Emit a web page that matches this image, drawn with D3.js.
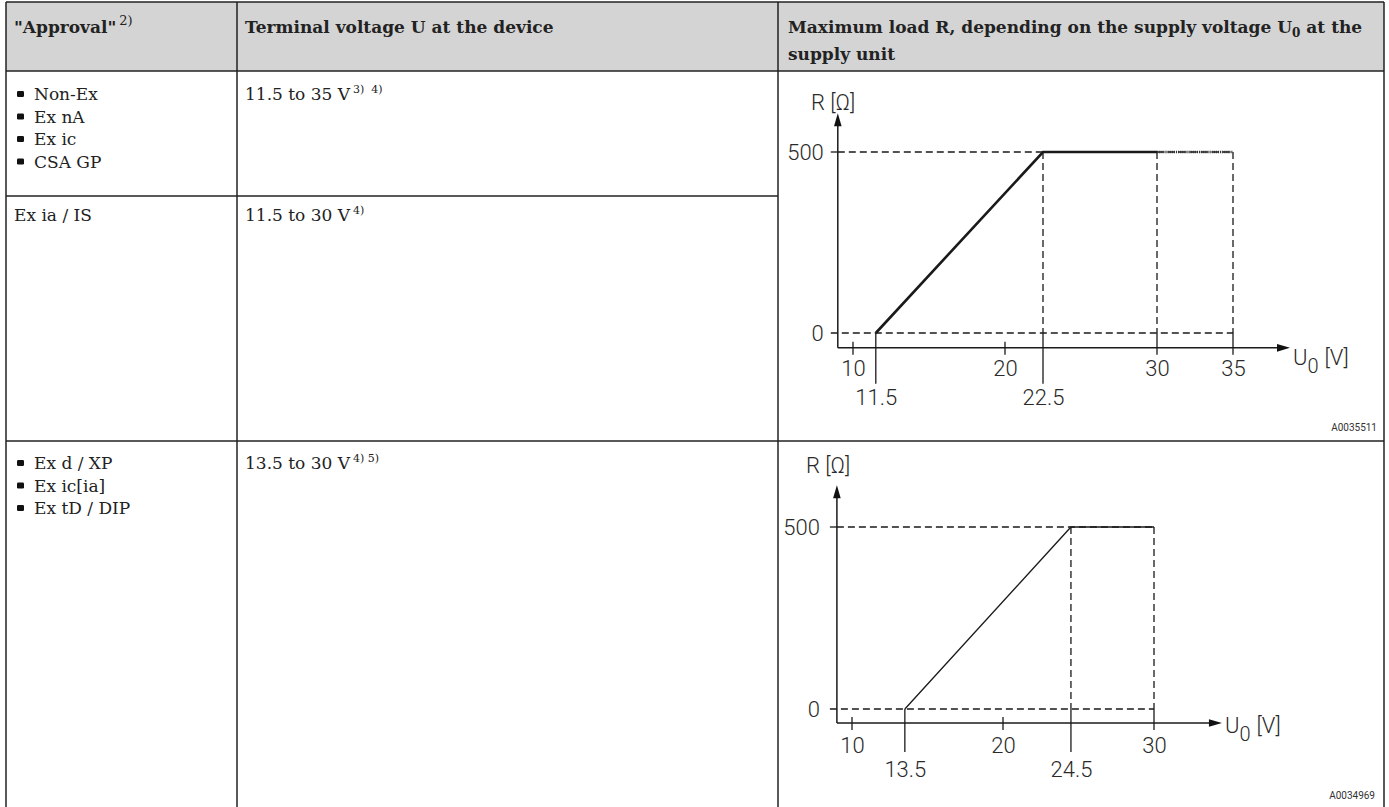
<!DOCTYPE html>
<html><head><meta charset="utf-8">
<script src="https://cdn.jsdelivr.net/npm/d3@7"></script>
<style>body{margin:0;background:#fff}</style>
</head><body>
<svg id="c" width="1389" height="807" xmlns="http://www.w3.org/2000/svg"></svg>
<script>
// ---------- data ----------
const headApproval = '"Approval"';
const headApprovalNote = "2)";
const headVoltage = "Terminal voltage U at the device";
const headLoad1 = ["Maximum load R, depending on the supply voltage U", "0", " at the"];
const headLoad2 = "supply unit";

const approvalsA = ["Non-Ex", "Ex nA", "Ex ic", "CSA GP"];
const approvalsB = ["Ex ia / IS"];
const approvalsC = ["Ex d / XP", "Ex ic[ia]", "Ex tD / DIP"];
const voltageA = "11.5 to 35 V", notesA = "3)  4)";
const voltageB = "11.5 to 30 V", notesB = "4)";
const voltageC = "13.5 to 30 V", notesC = "4) 5)";

const loadTicks = [0, 500];

// chart 1
const c1U = [11.5, 22.5, 30];
const c1R = [0, 500, 500];
const c1ExtU = [30, 35];
const c1ExtR = [500, 500];
const c1TopTicks = [10, 20, 30, 35];
const c1LowTicks = [11.5, 22.5];
const c1Guides = [22.5, 30, 35];
const c1Id = "A0035511";

// chart 2
const c2U = [13.5, 24.5, 30];
const c2R = [0, 500, 500];
const c2TopTicks = [10, 20, 30];
const c2LowTicks = [13.5, 24.5];
const c2Guides = [24.5, 30];
const c2Id = "A0034969";

// ---------- drawing ----------
const svg = d3.select("#c");
const SERIF = "'DejaVu Serif',serif";
const SANS = "Roboto,'Open Sans',sans-serif";
const INK = "#222";
const FS = 17;

// header background
svg.append("rect").attr("x", 6).attr("y", 2).attr("width", 1378).attr("height", 69).attr("fill", "#d4d4d4");

function supText(g, x, y, main, note, opts) {
  const t = g.append("text").attr("x", x).attr("y", y)
    .attr("font-family", SERIF).attr("font-size", opts.size).attr("font-weight", opts.weight || "normal")
    .attr("fill", INK).attr("xml:space", "preserve");
  t.append("tspan").text(main);
  t.append("tspan").attr("dx", 3).attr("dy", opts.supDy || -7).attr("font-size", opts.supSize || 11)
    .attr("font-weight", "normal").text(note);
  return t;
}

// header texts
supText(svg, 14, 33, headApproval, headApprovalNote, {size: FS, weight: "bold", supSize: 13, supDy: -8});
svg.append("text").attr("x", 245).attr("y", 33).attr("font-family", SERIF).attr("font-size", FS)
  .attr("font-weight", "bold").attr("fill", INK).text(headVoltage);
const h3 = svg.append("text").attr("x", 788).attr("y", 33).attr("font-family", SERIF).attr("font-size", FS)
  .attr("font-weight", "bold").attr("fill", INK).attr("xml:space", "preserve");
h3.append("tspan").text(headLoad1[0]);
h3.append("tspan").attr("dy", 4).attr("font-size", 12).text(headLoad1[1]);
h3.append("tspan").attr("dy", -4).text(headLoad1[2]);
svg.append("text").attr("x", 788).attr("y", 60).attr("font-family", SERIF).attr("font-size", FS)
  .attr("font-weight", "bold").attr("fill", INK).text(headLoad2);

// bulleted list
function bulletList(items, y0, step) {
  const g = svg.append("g");
  const rows = g.selectAll("g").data(items).join("g")
    .attr("transform", (d, i) => `translate(0,${y0 + i * step})`);
  rows.append("rect").attr("x", 17).attr("y", -9).attr("width", 7).attr("height", 6).attr("rx", 1.3).attr("fill", "#111");
  rows.append("text").attr("x", 34).attr("y", 0).attr("font-family", SERIF).attr("font-size", FS)
    .attr("fill", INK).text(d => d);
}
bulletList(approvalsA, 100, 22.5);
svg.selectAll(".plainB").data(approvalsB).join("text").attr("x", 14).attr("y", 221)
  .attr("font-family", SERIF).attr("font-size", FS).attr("fill", INK).text(d => d);
bulletList(approvalsC, 469, 22.5);

supText(svg, 245, 100, voltageA, notesA, {size: FS});
supText(svg, 245, 221, voltageB, notesB, {size: FS});
supText(svg, 245, 469, voltageC, notesC, {size: FS});

// table lines
const lines = [
  [6, 2, 1384, 2], [6, 71, 1384, 71], [6, 196, 778, 196], [6, 441, 1384, 441],
  [6, 2, 6, 807], [237, 2, 237, 807], [778, 2, 778, 807], [1384, 2, 1384, 807]
];
svg.append("g").selectAll("line").data(lines).join("line")
  .attr("x1", d => d[0]).attr("y1", d => d[1]).attr("x2", d => d[2]).attr("y2", d => d[3])
  .attr("stroke", INK).attr("stroke-width", 1.5);

// chart drawing
function drawChart(cfg) {
  const g = svg.append("g");
  const x = d3.scaleLinear().domain([10, cfg.xRef]).range(cfg.xRange);
  const y = d3.scaleLinear().domain([0, 500]).range(cfg.yRange);
  const ax0 = x(cfg.xMin), axY = y(cfg.yMin), axEnd = x(cfg.xMax), ayTop = y(cfg.yMax);
  const gmax = d3.max(cfg.guides);
  const stroke = "#1a1a1a";
  const sw = 1.3;
  // dashed guides
  const dash = "7,4";
  g.append("line").attr("x1", ax0).attr("x2", x(gmax)).attr("y1", y(500)).attr("y2", y(500))
    .attr("stroke", stroke).attr("stroke-width", sw).attr("stroke-dasharray", dash);
  g.append("line").attr("x1", ax0 - 7).attr("x2", ax0).attr("y1", y(500)).attr("y2", y(500))
    .attr("stroke", stroke).attr("stroke-width", sw);
  g.append("line").attr("x1", ax0 - 7).attr("x2", x(gmax)).attr("y1", y(0)).attr("y2", y(0))
    .attr("stroke", stroke).attr("stroke-width", sw).attr("stroke-dasharray", dash);
  g.selectAll(".gv").data(cfg.guides).join("line")
    .attr("x1", d => x(d)).attr("x2", d => x(d)).attr("y1", y(500)).attr("y2", y(0))
    .attr("stroke", stroke).attr("stroke-width", sw).attr("stroke-dasharray", dash);
  // ticks
  const shortT = cfg.topTicks.filter(d => !cfg.guides.includes(d));
  const guideT = cfg.topTicks.filter(d => cfg.guides.includes(d));
  g.selectAll(".ts").data(shortT).join("line")
    .attr("x1", d => x(d)).attr("x2", d => x(d)).attr("y1", axY - 6).attr("y2", axY + 7)
    .attr("stroke", stroke).attr("stroke-width", sw);
  g.selectAll(".tg").data(guideT).join("line")
    .attr("x1", d => x(d)).attr("x2", d => x(d)).attr("y1", y(0)).attr("y2", axY + 7)
    .attr("stroke", stroke).attr("stroke-width", sw);
  g.selectAll(".tl").data(cfg.lowTicks).join("line")
    .attr("x1", d => x(d)).attr("x2", d => x(d)).attr("y1", y(0)).attr("y2", axY + cfg.lowLen)
    .attr("stroke", stroke).attr("stroke-width", sw);
  // axes lines with arrows
  g.append("path").attr("d", `M${ax0},${axY}L${axEnd - 10},${axY}`).attr("stroke", stroke).attr("stroke-width", 1.5);
  g.append("path").attr("d", `M${ax0},${axY}L${ax0},${ayTop + 10}`).attr("stroke", stroke).attr("stroke-width", 1.5);
  g.append("path").attr("d", `M${axEnd},${axY}L${axEnd - 13},${axY - 3.8}L${axEnd - 13},${axY + 3.8}Z`).attr("fill", "#111");
  g.append("path").attr("d", `M${ax0},${ayTop}L${ax0 - 3.8},${ayTop + 13}L${ax0 + 3.8},${ayTop + 13}Z`).attr("fill", "#111");
  // curve
  const line = d3.line().x(d => x(d[0])).y(d => y(d[1]));
  g.append("path").datum(d3.zip(cfg.U, cfg.R)).attr("d", line).attr("fill", "none")
    .attr("stroke", "#1a1a1a").attr("stroke-width", cfg.lw).attr("stroke-linejoin", "miter");
  if (cfg.extU) {
    g.append("path").datum(d3.zip(cfg.extU, cfg.extR)).attr("d", line).attr("fill", "none")
      .attr("stroke", "#333").attr("stroke-width", 2.4).attr("stroke-dasharray", "1.2,0.9");
  }
  // labels via axis generators
  const styleAxis = sel => {
    sel.select(".domain").remove();
    sel.selectAll("text").attr("font-family", SANS).attr("font-weight", 300).attr("font-size", 22).attr("fill", "#2a2a2a");
  };
  g.append("g").attr("transform", `translate(0,${axY})`)
    .call(d3.axisBottom(x).tickValues(cfg.topTicks).tickSize(0).tickPadding(cfg.topPad).tickFormat(d3.format("")))
    .call(styleAxis);
  g.append("g").attr("transform", `translate(0,${axY})`)
    .call(d3.axisBottom(x).tickValues(cfg.lowTicks).tickSize(0).tickPadding(cfg.lowPad).tickFormat(d3.format("")))
    .call(styleAxis);
  g.append("g").attr("transform", `translate(${ax0},0)`)
    .call(d3.axisLeft(y).tickValues(loadTicks).tickSize(0).tickPadding(cfg.leftPad).tickFormat(d3.format("")))
    .call(styleAxis);
  // axis titles
  g.append("text").attr("x", cfg.rLabel[0]).attr("y", cfg.rLabel[1]).attr("font-family", SANS)
    .attr("font-weight", 300).attr("font-size", 22).attr("fill", "#2a2a2a").attr("xml:space", "preserve").text("R [Ω]");
  const ut = g.append("text").attr("x", axEnd + 3).attr("y", axY + cfg.uDy).attr("font-family", SANS)
    .attr("font-weight", 300).attr("font-size", 22).attr("fill", "#2a2a2a").attr("xml:space", "preserve");
  ut.append("tspan").text("U");
  ut.append("tspan").attr("dy", 8).attr("font-size", 20).text("0");
  ut.append("tspan").attr("dy", -8).attr("dx", 6).text("[V]");
  g.append("text").attr("x", cfg.idPos[0]).attr("y", cfg.idPos[1]).attr("text-anchor", "end")
    .attr("font-family", SANS).attr("font-size", 10).attr("fill", "#333").text(cfg.id);
}

drawChart({
  xRef: 20, xRange: [853, 1005], yRange: [333, 152],
  xMin: 9, xMax: 38.75, yMin: -41, yMax: 607,
  U: c1U, R: c1R, extU: c1ExtU, extR: c1ExtR, lw: 2.6,
  topTicks: c1TopTicks, lowTicks: c1LowTicks, guides: c1Guides,
  lowLen: 36, topPad: 13, lowPad: 42, leftPad: 14, uDy: 17,
  rLabel: [811, 110], idPos: [1377, 431], id: c1Id
});
drawChart({
  xRef: 20, xRange: [852, 1003], yRange: [709, 527],
  xMin: 9, xMax: 34.5, yMin: -38.5, yMax: 615,
  U: c2U, R: c2R, lw: 1.3,
  topTicks: c2TopTicks, lowTicks: c2LowTicks, guides: c2Guides,
  lowLen: 29, topPad: 14, lowPad: 38, leftPad: 17, uDy: 10,
  rLabel: [806, 473], idPos: [1375, 799], id: c2Id
});
</script>
</body></html>
